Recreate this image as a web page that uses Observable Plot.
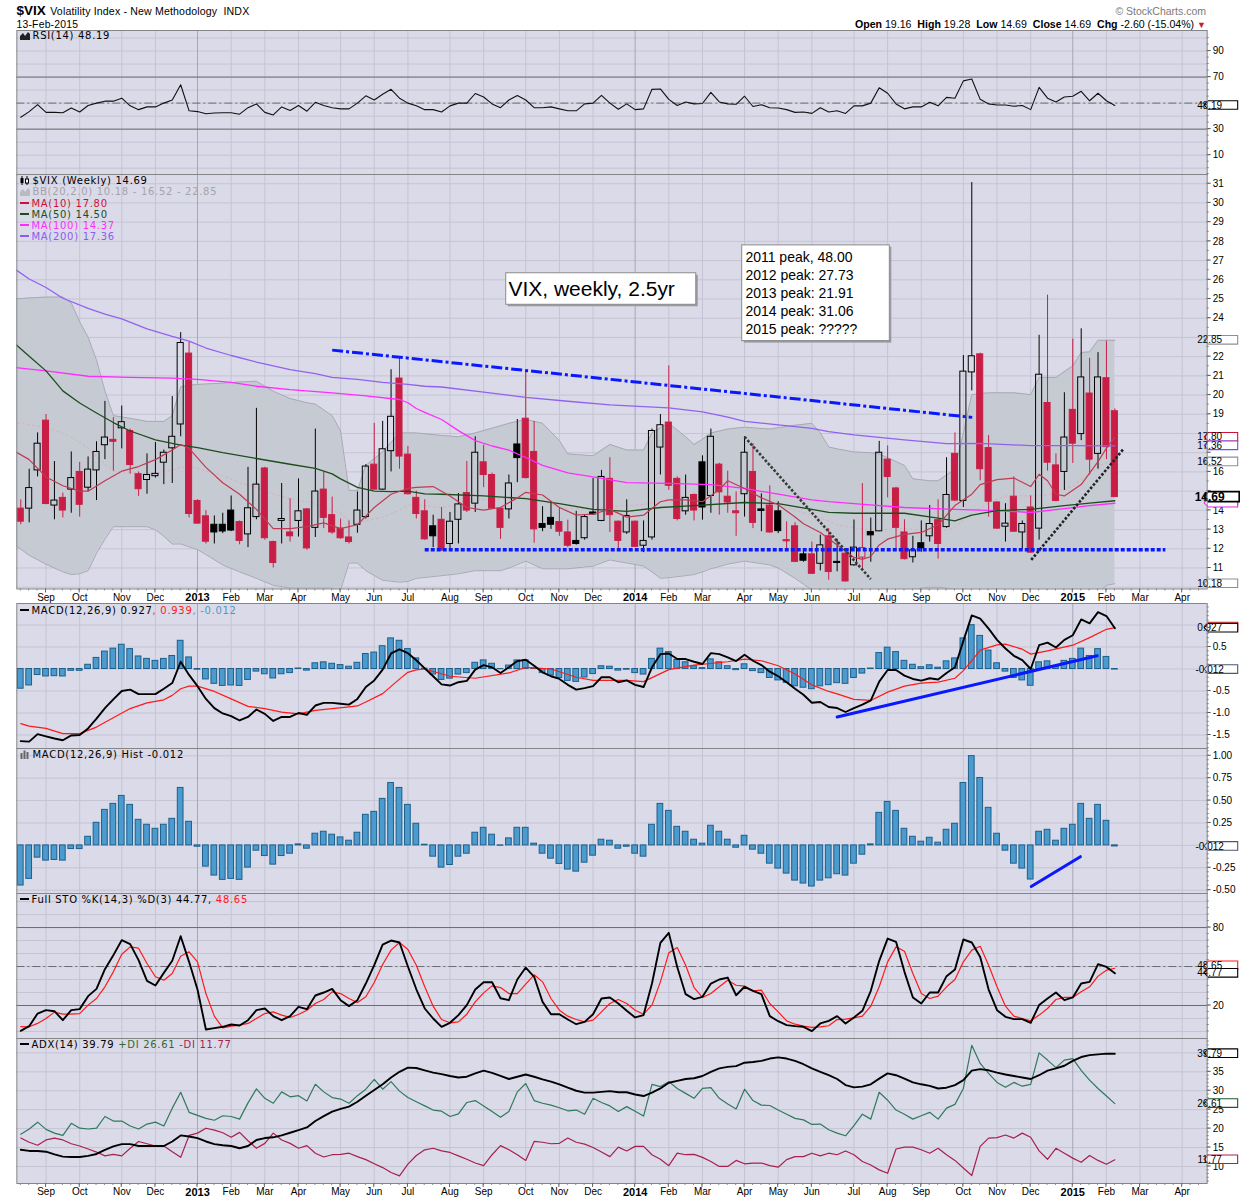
<!DOCTYPE html>
<html><head><meta charset="utf-8">
<script src="https://cdn.jsdelivr.net/npm/d3@7"></script>
<script src="https://cdn.jsdelivr.net/npm/@observablehq/plot@0.6"></script>
<style>
body{margin:0;background:#fff;}
#root{position:relative;width:1250px;height:1200px;overflow:hidden;background:#fff;}
.abs{position:absolute;}
.lg{position:absolute;transform:translateY(-50%);font-family:"DejaVu Sans",Verdana,sans-serif;font-size:10px;letter-spacing:0.7px;white-space:nowrap;line-height:12px;color:#000;}
.hd{position:absolute;transform:translateY(-50%);font-family:"Liberation Sans",Arial,sans-serif;white-space:nowrap;line-height:14px;color:#000;}
.dash{display:inline-block;width:9px;height:2px;vertical-align:middle;margin-right:3px;position:relative;top:-1px;}
svg.ic{vertical-align:middle;margin-right:3px;position:relative;top:-1px;}
</style></head><body><div id="root"></div>
<script>
// ---------- DATA (weekly bars, index 0 = week of 13-Aug-2012, 130 = week of 9-Feb-2015) ----------
const firstWeek = "2012-08-13";
const open = [
14.09,14.09,16.08,18.67,14.25,14.65,15.08,16.00,15.18,16.08,
17.39,17.67,18.27,18.13,15.88,15.58,15.78,16.48,17.23,18.47,
22.16,14.49,13.69,13.25,13.25,13.99,13.39,12.75,13.65,16.18,
12.35,13.45,12.85,13.45,14.05,13.09,15.08,13.75,13.05,12.59,
13.25,13.65,16.38,15.08,17.08,20.86,16.90,14.65,13.95,13.17,
13.51,12.25,13.51,14.90,14.35,16.50,15.84,14.09,14.05,17.43,
18.77,17.04,13.29,13.61,13.39,12.85,12.41,12.55,13.89,13.45,
15.64,13.41,12.85,13.41,12.16,12.59,17.27,18.57,15.64,13.95,
14.80,16.50,14.75,16.38,14.71,13.95,14.84,16.00,14.05,14.25,
13.95,12.45,13.17,11.71,11.71,11.22,12.65,11.32,11.75,11.14,
11.54,12.87,12.91,16.64,15.14,12.85,11.56,12.29,12.65,13.49,
13.13,16.94,14.49,21.18,22.12,17.24,14.41,13.15,14.71,12.85,
14.15,13.05,19.59,16.34,16.00,19.23,17.97,20.08,16.94,20.88,
19.16];
const high = [
14.55,16.14,18.03,18.99,16.54,14.90,17.04,16.50,16.78,17.57,
19.67,18.83,19.43,18.23,16.00,16.94,17.53,17.14,19.92,23.25,
22.75,14.55,13.99,13.71,13.85,14.75,13.45,16.24,19.31,16.24,
12.40,15.40,14.61,15.64,14.10,18.23,15.98,14.69,13.55,13.45,
14.96,16.38,18.53,18.63,21.32,21.92,17.33,15.00,14.55,13.75,
14.15,13.89,14.88,16.54,17.83,17.39,15.94,14.15,15.84,18.73,
21.22,18.63,14.19,14.45,14.15,13.49,13.95,13.75,15.66,16.08,
16.74,13.45,14.55,13.45,13.45,18.23,18.99,21.52,15.74,15.84,
14.85,16.84,18.23,16.45,16.04,14.96,17.83,17.47,14.86,15.28,
14.45,13.40,13.36,11.90,12.35,12.71,13.05,12.50,11.80,13.50,
15.39,13.60,17.59,17.35,15.20,13.51,12.65,13.45,14.25,14.55,
16.74,18.03,22.06,31.06,22.18,17.89,14.45,14.35,15.74,13.45,
14.75,23.11,25.20,16.94,20.12,22.91,23.45,21.92,22.21,22.81,
19.28];
const low = [
13.25,13.35,15.74,14.29,13.51,13.61,13.85,13.65,14.98,14.51,
16.64,16.04,17.20,15.88,14.73,14.84,15.68,15.34,15.40,17.83,
13.61,13.28,12.25,12.25,12.79,12.89,12.21,12.06,13.51,12.45,
11.00,12.25,12.35,12.61,11.92,12.59,13.05,12.75,12.49,12.25,
12.81,13.55,15.04,15.04,16.00,16.14,14.80,13.55,12.45,12.06,
11.86,11.86,12.25,13.89,13.89,15.18,14.05,12.49,13.55,15.44,
15.64,12.29,12.89,13.01,12.65,12.06,12.19,12.45,13.75,13.41,
12.85,11.86,12.75,12.06,11.80,12.45,15.84,15.04,13.45,13.75,
13.45,13.49,13.85,13.75,13.85,12.65,13.65,13.05,12.89,12.81,
12.79,11.90,11.28,11.30,10.66,10.85,10.36,10.80,10.27,11.10,
10.90,11.30,12.89,14.65,11.86,11.42,11.26,11.82,12.35,11.46,
13.07,14.45,14.15,20.22,15.54,13.65,13.01,12.35,12.85,11.96,
11.76,12.45,16.04,14.45,15.04,16.44,17.63,15.84,16.14,16.64,
14.69];
const close = [
13.41,15.16,17.47,14.33,14.51,13.99,15.68,14.29,16.12,17.04,
17.79,17.57,18.59,16.36,15.10,15.84,15.90,17.00,17.83,22.71,
13.81,13.31,12.37,12.85,12.90,12.95,12.41,14.11,15.34,12.55,
11.26,13.55,12.65,13.95,12.02,14.98,13.61,12.85,12.55,12.35,
13.99,16.28,15.08,17.18,18.87,16.80,14.84,13.81,12.49,12.65,
11.92,13.41,14.31,13.99,17.00,15.84,14.09,13.09,15.40,16.72,
15.68,13.01,13.09,13.25,12.89,12.16,12.25,13.65,13.79,15.74,
13.75,12.41,13.71,12.10,12.41,18.13,18.43,15.28,13.55,14.65,
13.99,14.15,17.83,14.94,14.41,13.85,17.00,13.35,13.97,12.85,
12.92,12.39,11.32,11.38,10.70,12.18,10.79,11.26,10.30,12.06,
12.04,12.70,17.00,15.74,13.09,11.46,11.92,12.02,13.29,12.25,
14.80,14.51,21.22,22.02,16.14,14.45,13.05,13.31,12.89,13.29,
11.80,21.06,16.48,14.49,17.79,17.47,20.92,16.64,20.92,17.29,
14.69];

// moving averages / Bollinger bands: [week, value]
const ma10 = [[-1,17.15],[1,16.64],[3,15.74],[5,15.28],[7,15.0],[8,15.0],[10,15.54],[12,16.04],[14,16.28],[16,16.64],[18,17.14],[19,17.43],[20,17.23],[22,16.24],[24,15.44],[26,14.84],[28,14.05],[30,13.05],[32,13.05],[34,13.15],[36,13.35],[38,13.05],[40,13.25],[42,14.15],[44,14.84],[46,15.14],[47,15.2],[49,15.24],[51,14.75],[53,14.15],[55,14.01],[57,14.15],[59,14.65],[60,14.94],[62,14.8],[64,14.15],[66,13.75],[68,13.81],[70,14.05],[72,13.65],[74,13.75],[76,14.45],[77,14.55],[79,14.55],[81,14.45],[83,15.08],[84,15.54],[86,15.14],[88,14.65],[90,14.29],[92,13.65],[93,13.3],[95,12.85],[97,12.2],[99,11.55],[100,11.45],[101,11.6],[102,12.2],[103,12.5],[105,12.75],[107,12.85],[109,13.25],[111,14.25],[113,14.84],[114,15.34],[116,15.6],[118,15.68],[120,15.24],[121,15.88],[122,15.54],[123,14.84],[124,14.75],[126,15.34],[128,16.54],[129,17.24],[130,17.80]];
const ma50 = [[-1,22.8],[1,22.02],[3,21.26],[5,20.22],[7,19.59],[9,19.07],[11,18.57],[13,18.13],[16,17.67],[19,17.39],[21,17.27],[24,17.0],[28,16.7],[32,16.4],[35,16.18],[37,15.9],[38,15.64],[40,15.2],[42,15.0],[44,14.98],[46,15.0],[48,14.86],[50,14.84],[55,14.75],[60,14.61],[64,14.35],[68,14.05],[72,13.95],[76,14.15],[80,14.25],[86,14.41],[90,14.35],[94,14.05],[96,13.9],[99,13.85],[105,13.85],[109,13.6],[111,13.45],[113,13.75],[116,13.99],[120,14.05],[124,14.25],[127,14.38],[130,14.50]];
const ma100 = [[-1,21.45],[3,21.26],[8,20.98],[13,20.92],[18,20.88],[21,20.82],[25,20.66],[28,20.46],[32,20.28],[37,20.12],[41,19.96],[45,19.77],[46,19.6],[47,19.3],[48,19.1],[50,18.73],[52,18.15],[54,17.63],[56,17.35],[58,17.14],[60,16.75],[62,16.34],[65,15.95],[68,15.74],[72,15.44],[77,15.4],[82,15.34],[86,15.14],[90,14.84],[94,14.55],[96,14.45],[99,14.35],[105,14.15],[111,14.05],[116,13.99],[120,13.89],[124,14.09],[127,14.25],[130,14.37]];
const ma200 = [[-1,26.65],[1,26.04],[3,25.6],[5,25.04],[8,24.51],[10,24.21],[12,23.97],[15,23.45],[18,23.05],[20,22.81],[22,22.45],[25,22.06],[28,21.72],[32,21.32],[35,21.12],[37,20.92],[40,20.82],[43,20.66],[46,20.56],[48,20.46],[50,20.42],[55,20.15],[60,19.88],[65,19.68],[70,19.49],[74,19.4],[77,19.33],[81,19.13],[84,18.85],[86,18.63],[90,18.45],[94,18.27],[96,18.1],[99,17.93],[105,17.67],[110,17.47],[114,17.49],[120,17.37],[125,17.37],[130,17.36]];
// [week, lower, middle, upper]
const bb = [[-1,12.3,18.6,25.0],[1,11.66,18.45,25.05],[3,11.2,18.33,25.1],[5,10.8,18.0,25.1],[6,10.66,17.8,24.8],[7,10.7,17.55,23.81],[8,10.86,17.24,23.01],[9,11.76,16.8,21.82],[10,12.5,16.4,20.22],[11,13.15,16.04,18.93],[13,13.15,15.98,18.79],[15,13.15,15.94,18.63],[16,12.99,15.94,18.63],[17,12.65,16.0,18.63],[18,12.25,16.1,18.93],[19,12.25,16.24,20.42],[20,12.1,16.3,20.52],[21,11.96,16.2,20.55],[22,11.7,16.04,20.58],[24,11.16,15.8,20.62],[26,10.8,15.44,20.68],[28,10.46,15.2,20.72],[30,10.1,14.84,20.2],[32,9.96,14.6,19.82],[34,9.96,14.45,19.6],[35,9.96,14.3,19.53],[37,9.96,14.0,18.93],[38,9.86,13.85,18.13],[39,11.26,13.5,15.04],[40,11.26,13.35,15.04],[41,10.86,13.45,16.34],[43,10.36,13.65,17.04],[45,10.26,14.0,18.03],[46,10.3,14.25,18.03],[47,10.46,14.3,18.03],[50,10.6,14.15,17.9],[52,10.7,14.3,17.83],[54,10.86,14.55,18.03],[57,10.86,14.6,18.4],[58,11.0,14.62,18.53],[60,11.36,14.65,18.73],[62,10.96,14.5,18.53],[64,10.96,14.15,17.63],[65,10.96,14.1,16.94],[68,11.1,14.05,16.84],[70,11.42,14.2,17.43],[72,11.26,14.25,17.14],[74,11.1,14.3,17.14],[75,10.8,14.4,18.03],[76,10.46,14.45,18.3],[77,10.5,14.5,18.53],[79,10.6,14.3,17.83],[80,10.66,14.2,17.43],[81,10.8,14.15,17.7],[82,10.96,14.3,18.03],[84,11.2,14.4,18.23],[86,11.36,14.45,18.33],[89,11.16,14.3,18.23],[90,11.0,14.25,18.3],[92,10.46,14.0,18.43],[94,9.86,13.75,18.53],[95,9.6,13.6,18.03],[96,9.5,13.45,17.3],[97,9.4,13.25,17.2],[99,9.3,13.1,17.04],[101,9.4,12.95,17.0],[102,9.5,12.98,16.94],[105,9.7,13.05,16.34],[106,9.9,13.0,15.64],[108,10.0,12.9,15.54],[109,10.0,12.85,15.54],[111,9.9,13.1,16.14],[112,9.5,13.5,18.03],[113,9.3,13.85,20.02],[115,9.1,14.4,20.12],[117,9.3,14.75,20.12],[118,9.4,14.75,20.12],[120,9.5,14.75,20.02],[121,8.6,14.75,20.92],[123,8.7,14.9,20.92],[125,9.0,15.28,21.52],[126,9.0,15.6,22.21],[127,9.3,15.9,22.25],[128,9.75,16.3,22.85],[129,10.1,16.48,22.85],[130,10.18,16.52,22.85]];

const rsi = [
39.1,43.5,48.8,42.9,42.9,42.6,46.2,43.2,48.2,50.0,
51.5,51.5,53.8,47.9,45.0,47.1,47.1,50.0,52.4,64.1,
44.1,43.5,41.8,42.4,42.6,42.6,41.5,46.5,49.4,42.9,
40.9,47.1,44.4,48.2,43.8,50.6,48.2,46.5,45.6,45.6,
50.0,55.6,52.4,56.8,60.6,53.8,50.0,48.0,45.0,45.0,
43.2,47.9,50.0,50.0,57.4,54.7,49.4,46.5,52.4,55.9,
52.4,46.5,46.5,47.1,45.6,44.1,44.1,49.4,50.0,55.9,
50.0,45.3,49.4,45.0,45.6,60.6,60.9,52.9,48.2,50.9,
49.4,49.7,58.2,50.9,49.4,49.1,55.3,47.4,48.8,46.5,
46.2,45.0,42.9,43.2,42.1,46.5,43.2,44.1,42.1,47.9,
47.9,50.0,61.8,57.6,49.4,45.6,47.1,47.1,50.6,47.9,
54.4,53.8,67.1,68.5,52.9,49.4,48.5,48.5,47.6,48.2,
45.0,62.1,53.8,50.9,54.7,55.3,59.1,51.8,57.6,51.8,
48.19];
const macd = [
-1.64,-1.65,-1.48,-1.53,-1.58,-1.62,-1.51,-1.50,-1.35,-1.13,
-0.89,-0.69,-0.50,-0.47,-0.57,-0.57,-0.57,-0.45,-0.32,0.165,
-0.135,-0.39,-0.68,-0.89,-1.01,-1.07,-1.17,-1.09,-0.92,-1.02,
-1.18,-1.09,-1.09,-1.00,-1.04,-0.83,-0.77,-0.77,-0.79,-0.81,
-0.68,-0.41,-0.26,-0.015,0.353,0.444,0.36,0.20,0.015,-0.165,
-0.35,-0.376,-0.30,-0.27,-0.015,0.09,0.038,-0.09,0.038,0.18,
0.21,0.075,-0.075,-0.165,-0.226,-0.36,-0.47,-0.436,-0.39,-0.188,
-0.188,-0.30,-0.26,-0.36,-0.41,0.038,0.338,0.353,0.226,0.226,
0.165,0.113,0.361,0.338,0.263,0.18,0.323,0.188,0.09,-0.06,
-0.165,-0.30,-0.45,-0.586,-0.767,-0.75,-0.865,-0.887,-0.977,-0.887,
-0.81,-0.714,-0.286,-0.023,-0.023,-0.15,-0.226,-0.263,-0.21,-0.24,
-0.09,0.038,0.64,1.218,1.143,0.917,0.662,0.466,0.30,0.203,
0.0,0.541,0.60,0.489,0.662,0.767,1.128,1.038,1.293,1.203,
0.927];
const macdSignal = [[0,-1.24],[1,-1.30],[3,-1.35],[5,-1.47],[7,-1.47],[9,-1.32],[11,-1.11],[13,-0.90],[15,-0.77],[17,-0.70],[18,-0.60],[19,-0.45],[20,-0.39],[21,-0.39],[23,-0.51],[25,-0.68],[27,-0.85],[29,-0.90],[31,-0.98],[33,-1.02],[35,-0.94],[37,-0.90],[39,-0.86],[40,-0.84],[41,-0.75],[43,-0.56],[45,-0.23],[46,-0.075],[47,-0.02],[48,0.0],[51,-0.165],[54,-0.21],[58,-0.09],[60,0.038],[63,0.0],[66,-0.188],[68,-0.26],[72,-0.26],[74,-0.286],[77,-0.015],[80,0.09],[84,0.165],[86,0.226],[88,0.188],[90,0.075],[92,-0.113],[94,-0.36],[96,-0.51],[97,-0.564],[99,-0.69],[101,-0.714],[103,-0.526],[105,-0.39],[107,-0.323],[109,-0.30],[111,-0.21],[112,-0.038],[113,0.188],[114,0.429],[116,0.549],[117,0.564],[119,0.451],[120,0.338],[122,0.414],[125,0.541],[127,0.714],[129,0.902],[130,0.939]];
const macdHist = [
-0.448,-0.374,-0.137,-0.170,-0.163,-0.170,-0.041,-0.041,0.096,0.252,
0.396,0.463,0.552,0.452,0.285,0.230,0.185,0.230,0.296,0.641,
0.263,-0.015,-0.237,-0.337,-0.385,-0.374,-0.385,-0.248,-0.059,-0.119,
-0.215,-0.119,-0.093,0.011,-0.037,0.130,0.152,0.119,0.089,0.052,
0.141,0.341,0.374,0.519,0.696,0.641,0.452,0.241,0.007,-0.126,
-0.248,-0.219,-0.126,-0.093,0.141,0.196,0.119,-0.004,0.078,0.196,
0.196,0.019,-0.093,-0.148,-0.207,-0.270,-0.293,-0.193,-0.115,0.063,
0.052,-0.037,-0.015,-0.093,-0.126,0.230,0.463,0.385,0.207,0.152,
0.063,0.019,0.219,0.152,0.063,-0.026,0.107,-0.048,-0.093,-0.204,
-0.259,-0.315,-0.393,-0.426,-0.459,-0.393,-0.367,-0.322,-0.337,-0.204,
-0.104,0.011,0.363,0.485,0.385,0.185,0.096,0.041,0.085,0.030,
0.174,0.241,0.696,0.996,0.752,0.419,0.130,-0.059,-0.204,-0.259,
-0.381,0.152,0.174,0.052,0.185,0.230,0.463,0.296,0.452,0.274,
-0.012];
const stoK = [
0.5,4.1,13.8,16.4,15.6,8.7,16.4,17.2,27.2,32.8,
47.9,58.7,70.3,67.2,54.9,39.0,35.4,45.1,54.4,73.3,
53.6,32.3,1.5,2.6,3.6,5.4,4.6,8.7,16.4,17.7,
11.8,8.7,11.8,19.0,17.2,27.7,30.0,32.8,24.1,19.5,
24.1,36.9,51.0,66.9,70.0,68.5,50.0,32.5,17.7,10.0,
3.6,6.7,12.6,20.3,32.3,37.9,37.9,25.6,24.1,40.0,
49.2,42.1,22.8,13.3,13.3,9.2,5.6,7.4,13.3,25.4,
26.2,21.5,15.9,10.8,12.6,36.9,68.2,75.9,49.7,28.7,
24.9,26.7,36.9,40.0,41.5,27.9,34.4,31.3,28.7,11.8,
7.9,4.9,4.1,3.6,0.3,6.2,8.2,11.8,6.2,10.8,
15.9,31.3,54.4,71.5,69.0,45.9,26.2,21.5,30.0,30.0,
42.6,47.7,70.8,68.5,57.4,32.3,16.4,11.3,9.5,9.5,
6.7,20.3,25.4,30.0,24.1,26.2,36.9,38.2,51.8,49.7,
44.77];
const stoD = [
3.8,3.6,6.2,10.0,14.9,13.3,13.3,13.8,20.3,25.4,
34.4,45.9,59.5,65.1,64.1,52.3,42.1,39.5,44.6,57.9,
61.3,53.6,29.2,11.8,2.8,4.1,4.9,6.2,10.0,13.8,
15.1,12.6,10.8,13.1,16.4,21.5,24.6,30.5,29.2,25.4,
22.3,26.7,37.7,51.5,62.6,68.5,63.1,51.0,34.4,19.5,
9.2,6.7,7.4,13.3,22.8,29.7,35.1,33.8,29.2,29.2,
36.4,43.6,38.2,25.4,16.4,11.8,9.2,7.4,8.7,15.1,
21.5,24.6,21.5,16.4,13.3,20.3,38.2,60.5,64.6,51.0,
33.8,26.2,29.2,34.4,39.5,35.6,34.9,31.3,31.8,21.5,
15.1,8.2,5.6,4.1,3.1,3.6,4.4,9.2,9.5,10.5,
11.8,19.5,34.4,53.6,65.1,61.8,44.6,29.2,25.4,27.2,
34.4,40.0,53.6,62.6,65.6,51.0,34.4,19.5,11.8,10.0,
8.2,12.6,17.7,24.6,26.2,26.2,30.5,34.4,42.6,47.2,
48.65];
const adx = [
14.4,14.1,14.1,13.9,13.2,12.6,12.5,12.5,12.8,13.3,
14.4,15.3,15.9,15.9,15.4,15.4,15.4,15.4,16.6,18.2,
17.9,17.5,16.6,15.9,15.6,15.4,14.8,15.4,17.0,17.5,
17.7,18.2,18.9,19.6,20.3,22.0,23.3,24.5,25.2,25.8,
27.1,28.7,30.2,31.7,33.5,35.0,36.1,36.0,35.4,34.8,
34.4,33.9,33.5,33.7,34.6,35.3,34.7,33.9,33.1,33.7,
34.3,33.7,33.0,32.4,31.7,30.8,30.0,29.5,29.5,29.7,
29.9,29.6,29.6,29.0,28.6,29.5,30.6,32.1,32.6,33.1,
33.3,33.9,35.0,35.9,36.3,36.5,37.4,37.6,37.9,38.5,
38.8,38.5,37.9,37.0,35.9,35.0,34.1,33.1,31.5,30.9,
31.1,31.7,33.2,34.6,34.1,33.2,32.2,31.7,31.3,30.6,
30.8,31.5,32.8,35.3,35.7,35.4,34.8,34.3,33.9,33.5,
33.1,34.1,35.3,35.9,36.6,37.9,38.9,39.4,39.6,39.8,
39.79];
const plusDI = [
18.5,19.9,21.7,19.8,18.8,18.2,21.4,20.1,19.9,20.1,
23.2,22.0,22.0,20.7,19.9,21.2,21.7,20.7,25.4,29.6,
24.3,23.5,22.7,22.2,23.4,23.2,22.5,26.8,30.5,28.0,
26.7,29.7,28.4,28.7,27.3,31.7,29.7,28.2,27.8,26.7,
28.7,30.4,33.0,30.4,32.4,29.9,28.2,27.1,26.0,24.9,
24.6,23.2,23.9,26.9,27.4,26.0,24.5,23.0,24.5,29.7,
31.9,27.4,26.7,26.2,25.5,24.7,24.9,23.8,28.0,26.9,
26.0,24.5,25.8,24.6,23.3,31.7,31.1,32.4,30.6,29.3,
28.0,30.6,30.8,28.0,26.5,25.2,30.4,27.4,26.2,26.1,
24.9,23.8,22.7,22.3,21.1,21.2,19.7,18.8,18.1,20.8,
23.8,22.5,29.6,27.5,24.9,23.8,22.5,23.4,24.3,22.5,
25.4,26.4,30.6,42.0,37.2,34.6,32.2,30.9,32.2,31.2,
31.7,40.0,38.1,36.1,38.1,38.5,35.4,32.8,30.6,28.6,
26.61];
const minusDI = [
17.5,16.4,15.6,17.0,17.5,17.0,16.0,15.4,14.6,13.8,
12.8,13.2,12.8,14.8,16.6,16.0,15.4,15.4,13.9,12.4,
18.2,18.8,20.1,19.6,18.9,17.7,19.0,16.8,14.8,16.1,
18.8,17.0,16.1,14.8,15.5,13.5,12.5,13.1,13.2,13.5,
12.6,11.8,10.7,9.7,8.4,7.5,10.6,12.9,14.4,14.8,
14.1,13.7,12.8,11.9,10.9,10.2,13.1,15.5,14.4,13.1,
11.6,16.6,16.4,16.0,16.1,17.5,16.4,15.9,15.0,13.8,
12.6,15.1,14.1,15.3,15.3,13.1,11.9,10.2,13.5,13.1,
13.2,12.4,11.3,10.0,10.0,11.6,10.7,10.9,10.9,10.2,
9.8,11.8,12.6,12.6,13.5,12.8,13.5,13.1,14.1,13.1,
11.3,10.4,9.1,8.2,14.6,15.1,15.1,14.4,13.5,14.8,
13.1,11.6,9.6,7.6,15.3,17.5,17.6,18.3,17.5,18.8,
17.7,14.1,11.9,14.8,13.5,12.2,11.1,12.9,11.6,10.6,
11.77];

// month tick labels: [week index of first bar of month, label]
const monthTicks = [[3,"Sep"],[7,"Oct"],[12,"Nov"],[16,"Dec"],[21,"2013"],[25,"Feb"],[29,"Mar"],[33,"Apr"],[38,"May"],[42,"Jun"],[46,"Jul"],[51,"Aug"],[55,"Sep"],[60,"Oct"],[64,"Nov"],[68,"Dec"],[73,"2014"],[77,"Feb"],[81,"Mar"],[86,"Apr"],[90,"May"],[94,"Jun"],[99,"Jul"],[103,"Aug"],[107,"Sep"],[112,"Oct"],[116,"Nov"],[120,"Dec"],[125,"2015"],[129,"Feb"],[133,"Mar"],[138,"Apr"]];

// hand-drawn annotations (data coordinates: [week, value])
const resistanceLine = [[37.0,22.34],[113.05,18.84]];
const supportLine = [[48,11.95],[136,11.95]];
const wedgeDown = [[86.0,17.83],[101.0,10.42]];
const wedgeUp = [[120.06,11.42],[131.0,17.18]];
const macdTrend = [[97.0,-1.09],[127.9,0.30]];
const histTrend = [[120.06,-0.459],[125.9,-0.126]];
const titleNote = {x1:57.68, x2:80.26, y1:24.70, y2:26.34, tx:57.95, ty:25.52, text:"VIX, weekly, 2.5yr"};
const peakNote = {x1:85.72, x2:103.26, y1:22.81, y2:27.79, tx:86.1};
const peakLines = [[27.16,"2011 peak, 48.00"],[26.23,"2012 peak: 27.73"],[25.29,"2013 peak: 21.91"],[24.35,"2014 peak: 31.06"],[23.41,"2015 peak: ?????"]];

// ---------- STYLE ----------
const SANS = "Liberation Sans, Arial, Helvetica, sans-serif";
const BG = "#dadae8", GRID = "#c4c4d4", GRID_YEAR = "#a6a6b8", FRAME = "#858589", LEVEL = "#6c6c70";
const RED = "#c81e46", BLUE = "#0a18ff";
const X_DOMAIN = [-0.47, 140.97];
const W = 1250, ML = 16.3, MR = 43.3;
const root = document.getElementById("root");

const candles = open.map((o, i) => {
  const c = close[i];
  const prev = i === 0 ? Infinity : close[i - 1];
  return {i, o, h: high[i], l: low[i], c, top: Math.max(o, c), bot: Math.min(o, c),
          col: c < prev ? RED : "#000", hollow: c > o};
});
const series = arr => arr.map((v, i) => [i, v]);
const months = monthTicks.map(([i, label]) => ({i, label, year: /^\d{4}$/.test(label)}));

function pxMark(yDomain, draw) {
  return (index, scales, values, dims) => {
    const d = dims || {width: W, height: 100, marginLeft: ML, marginRight: MR, marginTop: 0, marginBottom: 0};
    const xs = scales && typeof scales.x === "function" ? scales.x : d3.scaleLinear(X_DOMAIN, [d.marginLeft, d.width - d.marginRight]);
    const ys = scales && typeof scales.y === "function" ? scales.y : d3.scaleLinear(yDomain, [d.height - d.marginBottom, d.marginTop]);
    const g = d3.create("svg:g");
    draw(g, xs, ys, d);
    return g.node();
  };
}
function rightTicks(yDomain, major, minor) {
  return pxMark(yDomain, (g, xs, ys, d) => {
    const x0 = d.width - d.marginRight;
    for (const v of minor) g.append("line").attr("x1", x0).attr("x2", x0 + 2).attr("y1", ys(v)).attr("y2", ys(v)).attr("stroke", "#777");
    for (const v of major) g.append("line").attr("x1", x0).attr("x2", x0 + 4).attr("y1", ys(v)).attr("y2", ys(v)).attr("stroke", "#555");
  });
}
function bottomTicks(yDomain) {
  return pxMark(yDomain, (g, xs, ys, d) => {
    const yb = d.height - d.marginBottom;
    for (let i = 0; i <= 140; i++) g.append("line").attr("x1", xs(i)).attr("x2", xs(i)).attr("y1", yb).attr("y2", yb + 2).attr("stroke", "#888");
    for (const m of months) g.append("line").attr("x1", xs(m.i)).attr("x2", xs(m.i)).attr("y1", yb).attr("y2", yb + 4).attr("stroke", "#666");
  });
}
// value tags on the right axis; a tag without label is fully covered in the reference
function tags(yDomain, list) {
  return pxMark(yDomain, (g, xs, ys, d) => {
    const x0 = d.width - d.marginRight;
    for (const t of list) {
      const y = ys(t.v), hh = t.bold ? 10 : 8.6, w = t.bold ? 31 : 29.5;
      g.append("path")
        .attr("d", `M${x0 - 2.5},${y}L${x0 + 1.5},${y - hh / 2}H${x0 + 1.5 + w}V${y + hh / 2}H${x0 + 1.5}Z`)
        .attr("fill", "#fff").attr("stroke", t.color).attr("stroke-width", t.bold ? 1.6 : 1.1);
      if (t.label) g.append("text").attr("x", x0 + 3).attr("y", y).attr("dy", "0.36em")
        .attr("font-family", SANS).attr("font-size", t.bold ? 12 : 10)
        .attr("font-weight", t.bold ? "bold" : "normal").attr("fill", "#000").text(t.label);
    }
  });
}
function rightLabels(values, fmt) {
  return Plot.text(values, {x: () => X_DOMAIN[1], y: d => d, text: fmt, dx: 5.5, textAnchor: "start",
    fontSize: 10, fontFamily: SANS, fill: "#000"});
}
function base(hGrid) {
  return [
    Plot.frame({fill: BG}),
    Plot.ruleY(hGrid, {y: d => d, stroke: GRID}),
    Plot.ruleX(months.filter(m => !m.year), {x: "i", stroke: GRID}),
    Plot.ruleX(months.filter(m => m.year), {x: "i", stroke: GRID_YEAR})
  ];
}
function monthLabels() {
  return [
    Plot.text(months.filter(m => !m.year), {x: "i", frameAnchor: "bottom", dy: 8.8, text: "label", fontSize: 10, fontFamily: SANS, fill: "#000", lineAnchor: "middle"}),
    Plot.text(months.filter(m => m.year), {x: "i", frameAnchor: "bottom", dy: 8.8, text: "label", fontSize: 11, fontWeight: "bold", fontFamily: SANS, fill: "#000", lineAnchor: "middle"})
  ];
}
function panel(top, height, yDomain, marks, marginBottom = 0) {
  const chart = Plot.plot({
    width: W, height: height + marginBottom,
    marginLeft: ML, marginRight: MR, marginTop: 0, marginBottom,
    x: {type: "linear", domain: X_DOMAIN, axis: null},
    y: {type: "linear", domain: yDomain, axis: null},
    style: {background: "transparent", overflow: "visible", fontFamily: SANS},
    marks
  });
  const div = document.createElement("div");
  div.className = "abs"; div.style.left = "0px"; div.style.top = top + "px";
  div.appendChild(chart);
  root.appendChild(div);
}
const lineOf = (data, opts) => Plot.line(data, {x: d => d[0], y: d => d[1], clip: true, ...opts});
const dashed = (data, opts) => lineOf(data, {strokeLinecap: "butt", strokeLinejoin: "miter", ...opts});

// ---------- RSI ----------
const RSI_Y = [-5.3, 105.8];
panel(29.5, 144.6, RSI_Y, [
  ...base(d3.range(0, 101, 10)),
  Plot.ruleY([70, 30], {y: d => d, stroke: LEVEL}),
  Plot.ruleY([50], {y: d => d, stroke: LEVEL, strokeDasharray: "8,3,2,3"}),
  lineOf(series(rsi), {stroke: "#111", strokeWidth: 1.1}),
  rightLabels([90, 70, 30, 10], d => String(d)),
  rightTicks(RSI_Y, [90, 70, 30, 10], d3.range(0, 101, 5)),
  tags(RSI_Y, [{v: 48.19, label: "48.19", color: "#000"}]),
  Plot.frame({stroke: FRAME})
]);

// ---------- PRICE ----------
const PX_Y = [9.908, 31.48];
const body = {x1: d => d.i - 0.36, x2: d => d.i + 0.36, y1: "bot", y2: "top", stroke: "col", strokeWidth: 1};
panel(174.1, 414.5, PX_Y, [
  ...base(d3.range(10, 32)),
  Plot.areaY(bb, {x: d => d[0], y1: d => d[1], y2: d => d[3], fill: "#c6cbd3", clip: true}),
  lineOf(bb.map(d => [d[0], d[3]]), {stroke: "#a7aab2", strokeWidth: 1}),
  lineOf(bb.map(d => [d[0], d[1]]), {stroke: "#a7aab2", strokeWidth: 1}),
  dashed(bb.map(d => [d[0], d[2]]), {stroke: "#d2b6c0", strokeWidth: 1.2, strokeDasharray: "3,2"}),
  Plot.ruleX(candles, {x: "i", y1: "top", y2: "h", stroke: "col", strokeWidth: 1}),
  Plot.ruleX(candles, {x: "i", y1: "l", y2: "bot", stroke: "col", strokeWidth: 1}),
  Plot.rect(candles.filter(d => !d.hollow), {...body, fill: "col"}),
  Plot.rect(candles.filter(d => d.hollow), {...body, fill: "none"}),
  lineOf(ma200, {stroke: "#9262ef", strokeWidth: 1.3}),
  lineOf(ma100, {stroke: "#ff2cff", strokeWidth: 1.3}),
  lineOf(ma50, {stroke: "#1d4d1d", strokeWidth: 1.3}),
  lineOf(ma10, {stroke: "#c23a52", strokeWidth: 1.2}),
  dashed(resistanceLine, {stroke: BLUE, strokeWidth: 3, strokeDasharray: "11,3,3,3"}),
  dashed(supportLine, {stroke: BLUE, strokeWidth: 3.4, strokeDasharray: "4,2"}),
  dashed(wedgeDown, {stroke: "#3a3a3a", strokeWidth: 2.6, strokeDasharray: "2.6,1.8"}),
  dashed(wedgeUp, {stroke: "#222", strokeWidth: 2.6, strokeDasharray: "2.6,1.8"}),
  Plot.rect([titleNote], {x1: "x1", x2: "x2", y1: "y1", y2: "y2", fill: "#9a9aa2", dx: 2, dy: 2}),
  Plot.rect([titleNote], {x1: "x1", x2: "x2", y1: "y1", y2: "y2", fill: "#fff", stroke: "#8c8c8c"}),
  Plot.text([titleNote], {x: "tx", y: "ty", text: "text", textAnchor: "start", fontSize: 21, fontFamily: SANS, fill: "#000"}),
  Plot.rect([peakNote], {x1: "x1", x2: "x2", y1: "y1", y2: "y2", fill: "#9a9aa2", dx: 2, dy: 2}),
  Plot.rect([peakNote], {x1: "x1", x2: "x2", y1: "y1", y2: "y2", fill: "#fff", stroke: "#8c8c8c"}),
  Plot.text(peakLines, {x: () => peakNote.tx, y: d => d[0], text: d => d[1], textAnchor: "start", fontSize: 14, fontFamily: SANS, fill: "#000"}),
  rightLabels([11,12,13,14,16,19,20,21,22,24,25,26,27,28,29,30,31], d => String(d)),
  rightTicks(PX_Y, d3.range(10, 32), d3.range(10, 31.6, 0.5)),
  tags(PX_Y, [
    {v: 10.18, label: "10.18", color: "#8c9096"},
    {v: 22.85, label: "22.85", color: "#8c9096"},
    {v: 16.52, label: "16.52", color: "#8c9096"},
    {v: 17.80, label: "17.80", color: "#d0103a"},
    {v: 17.36, label: "17.36", color: "#7a4cf0"},
    {v: 14.50, label: "", color: "#1d4d1d"},
    {v: 14.37, label: "", color: "#ee22ee"},
    {v: 14.69, label: "14.69", color: "#000", bold: true}
  ]),
  Plot.frame({stroke: FRAME}),
  bottomTicks(PX_Y),
  ...monthLabels()
], 14.4);

// ---------- MACD ----------
const MACD_Y = [-1.807, 1.489];
const histBars = macdHist.map((v, i) => ({i, v}));
const bar = {x1: d => d.i - 0.34, x2: d => d.i + 0.34, y1: () => 0, y2: "v", fill: "#4b9bce", stroke: "#1d5f8c", strokeWidth: 1};
panel(603, 145, MACD_Y, [
  ...base([-1.5, -1.0, -0.5, 0, 0.5, 1.0]),
  Plot.rect(histBars, bar),
  lineOf(macdSignal, {stroke: "#ff1a1a", strokeWidth: 1.2}),
  lineOf(series(macd), {stroke: "#000", strokeWidth: 1.9}),
  lineOf(macdTrend, {stroke: BLUE, strokeWidth: 3}),
  rightLabels([0.5, -0.5, -1.0, -1.5], d => d.toFixed(1)),
  rightTicks(MACD_Y, [1.0, 0.5, 0, -0.5, -1.0, -1.5], d3.range(-1.8, 1.5, 0.1)),
  tags(MACD_Y, [
    {v: 0.955, label: "", color: "#ff1a1a"},
    {v: 0.927, label: "0.927", color: "#000"},
    {v: -0.012, label: "-0.012", color: "#4a5a70"}
  ]),
  Plot.frame({stroke: FRAME})
]);

// ---------- MACD HIST ----------
const HIST_Y = [-0.537, 1.081];
panel(748, 145, HIST_Y, [
  ...base([-0.5, -0.25, 0, 0.25, 0.5, 0.75, 1.0]),
  Plot.rect(histBars, bar),
  lineOf(histTrend, {stroke: BLUE, strokeWidth: 3}),
  rightLabels([1.0, 0.75, 0.5, 0.25, -0.25, -0.5], d => d.toFixed(2)),
  rightTicks(HIST_Y, [1.0, 0.75, 0.5, 0.25, 0, -0.25, -0.5], d3.range(-0.5, 1.06, 0.05)),
  tags(HIST_Y, [{v: -0.012, label: "-0.012", color: "#4a5a70"}]),
  Plot.frame({stroke: FRAME})
]);

// ---------- FULL STO ----------
const STO_Y = [-5.4, 106.2];
panel(893.3, 145, STO_Y, [
  ...base(d3.range(0, 101, 10)),
  Plot.ruleY([80, 20], {y: d => d, stroke: LEVEL}),
  Plot.ruleY([50], {y: d => d, stroke: LEVEL, strokeDasharray: "8,3,2,3"}),
  lineOf(series(stoD), {stroke: "#ff1a1a", strokeWidth: 1.2}),
  lineOf(series(stoK), {stroke: "#000", strokeWidth: 1.9}),
  rightLabels([80, 20], d => String(d)),
  rightTicks(STO_Y, [80, 20], d3.range(0, 101, 5)),
  tags(STO_Y, [
    {v: 50.5, label: "48.65", color: "#ff1a1a"},
    {v: 44.77, label: "44.77", color: "#000"}
  ]),
  Plot.frame({stroke: FRAME})
]);

// ---------- ADX ----------
const ADX_Y = [5.5, 43.8];
panel(1038.3, 145, ADX_Y, [
  ...base([10, 15, 20, 25, 30, 35, 40]),
  lineOf(series(minusDI), {stroke: "#a8204e", strokeWidth: 1.2}),
  lineOf(series(plusDI), {stroke: "#2e7a5c", strokeWidth: 1.2}),
  lineOf(series(adx), {stroke: "#000", strokeWidth: 1.9}),
  rightLabels([35, 30, 25, 20, 15, 10], d => String(d)),
  rightTicks(ADX_Y, [10, 15, 20, 25, 30, 35, 40], d3.range(6, 44, 1)),
  tags(ADX_Y, [
    {v: 39.79, label: "39.79", color: "#000"},
    {v: 26.61, label: "26.61", color: "#1d5a2a"},
    {v: 11.77, label: "11.77", color: "#a8204e"}
  ]),
  Plot.frame({stroke: FRAME}),
  bottomTicks(ADX_Y),
  ...monthLabels()
], 16.7);

// ---------- TEXT: header + legends ----------
function put(cls, x, y, html, extra) {
  const d = document.createElement("div");
  d.className = cls; d.style.left = x + "px"; d.style.top = y + "px";
  if (extra) Object.assign(d.style, extra);
  d.innerHTML = html; root.appendChild(d);
  return d;
}
put("hd", 16.5, 9.5, '<span style="font-weight:bold;font-size:13.5px">$VIX</span> <span style="font-size:10.6px;letter-spacing:0.15px">Volatility Index - New Methodology&nbsp; INDX</span>');
put("hd", 16.5, 23.6, '<span style="font-size:10.4px;letter-spacing:0.2px">13-Feb-2015</span>');
put("hd", 0, 10, '<span style="font-size:10.5px;color:#7a7a7a">&#169; StockCharts.com</span>', {left: "auto", right: (1250 - 1206) + "px"});
put("hd", 0, 23.6, '<span style="font-size:10.6px"><b>Open</b> 19.16&nbsp; <b>High</b> 19.28&nbsp; <b>Low</b> 14.69&nbsp; <b>Close</b> 14.69&nbsp; <b>Chg</b> -2.60 (-15.04%) <span style="color:#c41e3a;font-size:9px">&#9660;</span></span>', {left: "auto", right: (1250 - 1206) + "px"});

const dash = c => `<span class="dash" style="background:${c}"></span>`;
const mtn = '<svg class="ic" width="10" height="9" viewBox="0 0 10 9"><path d="M0,9L0,5L3,2L5,5L8,1L10,3L10,9Z" fill="#222"/></svg>';
const cndl = '<svg class="ic" width="10" height="9" viewBox="0 0 10 9"><line x1="2" y1="0" x2="2" y2="9" stroke="#000"/><rect x="0.5" y="2" width="3" height="5" fill="#000"/><line x1="7" y1="0" x2="7" y2="9" stroke="#000"/><rect x="5.5" y="3" width="3" height="4" fill="#fff" stroke="#000"/></svg>';
const bbic = '<svg class="ic" width="10" height="9" viewBox="0 0 10 9"><path d="M0,9L0,5L3,2L5,5L8,1L10,3L10,9Z" fill="#b9b9c0"/></svg>';
const bars = '<svg class="ic" width="10" height="9" viewBox="0 0 10 9"><rect x="0.5" y="3" width="2" height="6" fill="#666"/><rect x="3.5" y="0.5" width="2" height="8.5" fill="#666"/><rect x="6.5" y="2" width="2" height="7" fill="#666"/></svg>';

put("lg", 19.5, 36.4, mtn + 'RSI(14) 48.19');
put("lg", 19.5, 181, cndl + '$VIX (Weekly) 14.69');
put("lg", 19.5, 192.4, bbic + '<span style="color:#a4a4ac">BB(20,2.0) 10.18 - 16.52 - 22.85</span>');
put("lg", 19.5, 203.6, dash("#d0103a") + '<span style="color:#d0103a">MA(10) 17.80</span>');
put("lg", 19.5, 214.6, dash("#1d4d1d") + '<span style="color:#1d4d1d">MA(50) 14.50</span>');
put("lg", 19.5, 225.6, dash("#ff2cff") + '<span style="color:#ff2cff">MA(100) 14.37</span>');
put("lg", 19.5, 236.6, dash("#8a5cf0") + '<span style="color:#8a5cf0">MA(200) 17.36</span>');
put("lg", 19.5, 610.7, dash("#000") + 'MACD(12,26,9) 0.927<span style="color:#ff1a1a">, 0.939</span><span style="color:#4a9ac8">, -0.012</span>');
put("lg", 19.5, 755.4, bars + 'MACD(12,26,9) Hist -0.012');
put("lg", 19.5, 900.4, dash("#000") + 'Full STO %K(14,3) %D(3) 44.77, <span style="color:#ff1a1a">48.65</span>');
put("lg", 19.5, 1045.4, dash("#000") + 'ADX(14) 39.79 <span style="color:#2e6b30">+DI 26.61</span> <span style="color:#a8204e">-DI 11.77</span>');
</script></body></html>
